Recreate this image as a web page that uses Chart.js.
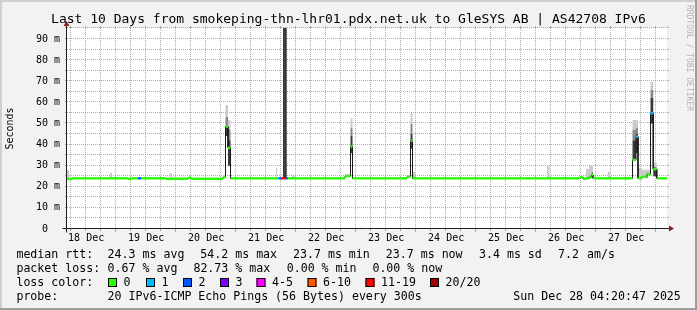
<!DOCTYPE html>
<html>
<head>
<meta charset="utf-8">
<script src="https://cdn.jsdelivr.net/npm/chart.js@4.4.0/dist/chart.umd.min.js"></script>
<style>
  html, body { margin: 0; padding: 0; background: #f2f2f2; }
  canvas { display: block; }
</style>
</head>
<body>
<canvas id="chart" width="697" height="310"></canvas>
<script>
const FONT = "'DejaVu Sans Mono', 'Liberation Mono', monospace";
const TITLE = 'Last 10 Days from smokeping-thn-lhr01.pdx.net.uk to GleSYS AB | AS42708 IPv6';

// --- DATA: hours since start of the 10 day window, value holds until next entry ---
const END_HOUR = 240;
const hours     = [0.0, 0.8, 2.0, 17.2, 18.0, 24.4, 25.6, 28.4, 29.6, 39.6, 41.2, 42.0, 48.4, 49.6, 62.4, 63.4, 64.4, 65.4,
                   83.6, 84.0, 84.8, 85.6, 86.4, 87.2, 87.9, 88.4, 90.0, 90.8, 111.2, 113.4, 114.2, 136.0, 137.4, 138.2, 139.2,
                   192.0, 193.0, 205.2, 206.4, 207.6, 208.8, 209.8, 210.4, 216.4, 217.2, 226.2, 227.6, 228.4, 230.0, 231.8,
                   232.2, 233.4, 234.5, 235.9];
const median    = [23.7, 23.7, 24.0, 24.0, 24.0, 23.7, 24.0, 24.0, 24.0, 23.7, 23.7, 23.8, 24.2, 23.8, 24.6, 48.5, 38.5, 24.0,
                   24.0, 24.0, 24.0, 24.0, 24.0, 24.0, 24.0, 24.0, 24.0, 24.0, 25.0, 39.0, 24.0, 24.8, 41.8, 24.0, 24.0,
                   24.0, 24.0, 24.5, 23.8, 24.0, 24.8, 25.6, 24.0, 24.0, 24.0, 32.7, 43.7, 24.0, 24.8, 25.2,
                   25.9, 54.8, 28.3, 24.0];
const loss      = [0, 0, 0, 0, 0, 0, 0, 2, 0, 0, 0, 0, 0, 0, 0, 0, 0, 0,
                   0, 1, 2, 15, 15, 2, 2, 0, 0, 0, 0, 0, 0, 0, 0, 0, 0,
                   0, 0, 0, 0, 0, 0, 0, 0, 0, 0, 0, 1, 0, 0, 0,
                   0, 1, 0, 0];
const smokeLo   = [23.7, 23.7, 24.0, 24.0, 24.0, 23.7, 24.0, 24.0, 24.0, 23.7, 23.7, 23.8, 24.2, 23.8, 24.6, 44.0, 30.0, 24.0,
                   24.0, 24.0, 24.0, 24.0, 24.0, 24.0, 24.0, 24.0, 24.0, 24.0, 25.0, 36.0, 24.0, 24.8, 38.0, 24.0, 24.0,
                   24.0, 24.0, 24.5, 23.8, 24.0, 24.0, 24.5, 24.0, 24.0, 24.0, 32.7, 36.0, 24.0, 24.8, 24.0,
                   25.9, 50.0, 25.0, 24.0];
const smokeDark = [23.7, 23.7, 24.0, 24.0, 24.0, 23.7, 24.0, 24.0, 24.0, 23.7, 23.7, 23.8, 24.2, 23.8, 24.6, 48.5, 42.0, 24.0,
                   24.0, 24.0, 24.0, 24.0, 120, 120, 24.0, 24.0, 24.0, 24.0, 25.0, 44.0, 24.0, 24.8, 45.0, 24.0, 24.0,
                   24.0, 24.0, 24.5, 23.8, 24.0, 24.8, 25.6, 24.0, 24.0, 24.0, 42.0, 45.0, 24.0, 24.8, 26.0,
                   25.9, 62.0, 28.3, 24.0];
const smokeMid  = [23.7, 23.7, 24.0, 24.0, 24.0, 23.7, 24.0, 24.0, 24.0, 23.7, 23.7, 23.8, 24.2, 23.8, 24.6, 53.0, 47.0, 24.0,
                   24.0, 24.0, 24.0, 24.0, 120, 120, 24.0, 24.0, 24.0, 24.0, 25.0, 48.0, 24.0, 24.8, 50.0, 24.0, 24.0,
                   24.0, 24.0, 24.5, 23.8, 24.0, 24.8, 27.0, 24.0, 24.0, 24.0, 47.0, 48.0, 24.0, 24.8, 27.0,
                   25.9, 66.0, 29.5, 24.0];
const smokeHi   = [28.0, 23.7, 24.0, 26.7, 24.0, 23.7, 24.0, 24.0, 24.0, 23.7, 26.5, 23.8, 24.2, 23.8, 25.5, 58.7, 51.6, 24.0,
                   29.0, 24.0, 24.0, 24.0, 120, 120, 24.0, 24.0, 25.6, 24.0, 26.0, 52.5, 24.0, 24.8, 55.0, 27.0, 24.0,
                   30.0, 24.0, 24.5, 23.8, 28.4, 30.0, 30.0, 24.0, 27.1, 24.0, 51.6, 51.6, 29.0, 28.0, 28.5,
                   28.0, 69.8, 31.4, 24.0];

const yTicks = [0, 10, 20, 30, 40, 50, 60, 70, 80, 90];
const dayLabels = ['18 Dec', '19 Dec', '20 Dec', '21 Dec', '22 Dec', '23 Dec', '24 Dec', '25 Dec', '26 Dec', '27 Dec'];
const labelDays = [18, 19, 20, 21, 22, 23, 24, 25, 26, 27];

const statsRtt  = ['24.3 ms avg', '54.2 ms max', '23.7 ms min', '23.7 ms now', '3.4 ms sd', '7.2', 'am/s'];
const statsLoss = ['0.67 % avg', '82.73 % max', '0.00 % min', '0.00 % now'];
const lossLabels = ['0', '1', '2', '3', '4-5', '6-10', '11-19', '20/20'];
const lossColors = ['#26ff00', '#00b8ff', '#0059ff', '#7e00ff', '#ff00ff', '#ff5500', '#ff0000', '#a10000'];
const probeText = '20 IPv6-ICMP Echo Pings (56 Bytes) every 300s';
const stampText = 'Sun Dec 28 04:20:47 2025';

// time helpers (window ends at the stamp above)
const endTime = Date.UTC(2025, 11, 28, 4, 20, 47);
const startTime = endTime - END_HOUR * 3600000;
const hourOf = (day, h) => (Date.UTC(2025, 11, day, h) - startTime) / 3600000;
const noonHours = labelDays.map(d => hourOf(d, 12));

function lossColor(n) {
    if (n <= 3) return lossColors[n];
    if (n <= 5) return lossColors[4];
    if (n <= 10) return lossColors[5];
    if (n <= 19) return lossColors[6];
    return lossColors[7];
}

function nextHour(i) {
    return i + 1 < hours.length ? hours[i + 1] : END_HOUR;
}

function stepPoints(values) {
    const pts = [];
    hours.forEach((h, i) => {
        pts.push({ x: h, y: values[i] }, { x: nextHour(i), y: values[i] });
    });
    return pts;
}

// horizontal pieces only, so the loss colour does not paint the vertical jumps
function medianPieces() {
    const pts = [];
    hours.forEach((h, i) => {
        pts.push({ x: h, y: median[i] }, { x: nextHour(i), y: median[i] }, { x: nextHour(i), y: null });
    });
    return pts;
}

function band(values, color) {
    return {
        data: stepPoints(values),
        borderColor: 'rgba(0,0,0,0)',
        borderWidth: 0,
        backgroundColor: color,
        fill: color ? '-1' : false,
        pointRadius: 0
    };
}

// --- PLUGINS ---
const backdrop = {
    id: 'backdrop',
    beforeDraw(chart) {
        const { ctx, chartArea: a, width, height } = chart;
        ctx.save();
        ctx.fillStyle = '#f2f2f2';
        ctx.fillRect(0, 0, width, height);
        ctx.fillStyle = '#cfcfcf';
        ctx.fillRect(0, 0, width, 2);
        ctx.fillRect(0, 0, 2, height);
        ctx.fillStyle = '#9e9e9e';
        ctx.fillRect(0, height - 2, width, 2);
        ctx.fillRect(width - 2, 0, 2, height);
        ctx.fillStyle = '#ffffff';
        ctx.fillRect(a.left, a.top, a.right - a.left, a.bottom - a.top);
        ctx.restore();
    }
};

const rrdGrid = {
    id: 'rrdGrid',
    beforeDatasetsDraw(chart) {
        const { ctx, chartArea: a, scales } = chart;
        const minor = 'rgba(143,143,143,0.75)';
        const major = 'rgba(222,79,79,0.6)';
        ctx.save();
        ctx.lineWidth = 1;
        const line = (x1, y1, x2, y2, color, dash) => {
            ctx.strokeStyle = color;
            ctx.setLineDash(dash);
            ctx.beginPath();
            ctx.moveTo(x1, y1);
            ctx.lineTo(x2, y2);
            ctx.stroke();
        };
        for (let v = 5; v < scales.y.max; v += 5) {
            const y = Math.round(scales.y.getPixelForValue(v)) - 0.5;
            const c = v % 10 === 0 ? major : minor;
            line(a.left - 2, y, a.left, y, c, []);
            line(a.right, y, a.right + 2, y, c, []);
            line(a.left, y, a.right, y, c, [1, 1]);
        }
        for (let day = 18; day <= 28; day++) {
            [0, 6, 12, 18].forEach(hh => {
                const t = hourOf(day, hh);
                if (t <= 0 || t >= END_HOUR) return;
                const x = Math.round(scales.x.getPixelForValue(t)) - 0.5;
                const c = hh === 0 ? major : minor;
                line(x, a.top - 2, x, a.top, c, []);
                line(x, a.bottom, x, a.bottom + (hh === 0 ? 3 : 2), c, []);
                line(x, a.top, x, a.bottom, c, [1, 1]);
            });
        }
        ctx.restore();
    }
};

const rrdAxes = {
    id: 'rrdAxes',
    afterDatasetsDraw(chart) {
        const { ctx, chartArea: a } = chart;
        const x0 = a.left - 0.5, y0 = a.bottom - 0.5;
        ctx.save();
        ctx.strokeStyle = '#1f1f1f';
        ctx.lineWidth = 1;
        ctx.beginPath();
        ctx.moveTo(x0 - 4, y0);
        ctx.lineTo(a.right + 4, y0);
        ctx.moveTo(x0, y0 + 4);
        ctx.lineTo(x0, a.top - 4);
        ctx.stroke();
        ctx.fillStyle = '#801f1f';
        ctx.beginPath();
        ctx.moveTo(a.right + 2, y0 - 3);
        ctx.lineTo(a.right + 2, y0 + 3);
        ctx.lineTo(a.right + 7, y0);
        ctx.closePath();
        ctx.fill();
        ctx.beginPath();
        ctx.moveTo(x0 - 3, a.top - 2);
        ctx.lineTo(x0 + 3, a.top - 2);
        ctx.lineTo(x0, a.top - 7);
        ctx.closePath();
        ctx.fill();
        ctx.restore();
    }
};

const rrdLegend = {
    id: 'rrdLegend',
    afterDraw(chart) {
        const { ctx } = chart;
        const rows = [254.5, 268.5, 282.5, 296.5];
        const rttX = [107.6, 200.3, 293, 385.8, 479, 558, 587];
        const lossX = [107.6, 193.4, 286.7, 372.4];
        const boxX = [108, 146, 183, 220, 256.5, 307.5, 365.5, 430];
        ctx.save();
        ctx.font = `11.6px ${FONT}`;
        ctx.fillStyle = '#000';
        ctx.textBaseline = 'middle';
        ctx.fillText('median rtt:', 16.4, rows[0]);
        statsRtt.forEach((s, i) => ctx.fillText(s, rttX[i], rows[0]));
        ctx.fillText('packet loss:', 16.4, rows[1]);
        statsLoss.forEach((s, i) => ctx.fillText(s, lossX[i], rows[1]));
        ctx.fillText('loss color:', 16.4, rows[2]);
        lossLabels.forEach((s, i) => {
            ctx.fillStyle = lossColors[i];
            ctx.fillRect(boxX[i], rows[2] - 4.5, 9, 9);
            ctx.strokeStyle = '#000';
            ctx.lineWidth = 1;
            ctx.strokeRect(boxX[i] + 0.5, rows[2] - 4, 8, 8);
            ctx.fillStyle = '#000';
            ctx.fillText(s, boxX[i] + 15.6, rows[2]);
        });
        ctx.fillText('probe:', 16.4, rows[3]);
        ctx.fillText(probeText, 107.6, rows[3]);
        ctx.fillText(stampText, 513.3, rows[3]);

        // rrdtool watermark on the right edge
        ctx.translate(689, 5);
        ctx.rotate(Math.PI / 2);
        ctx.font = `8px ${FONT}`;
        ctx.fillStyle = '#b4b4b4';
        ctx.textBaseline = 'middle';
        ctx.fillText('RRDTOOL / TOBI OETIKER', 0, 0);
        ctx.restore();
    }
};

// --- CHART ---
const ctx = document.getElementById('chart').getContext('2d');
new Chart(ctx, {
    type: 'line',
    data: {
        datasets: [
            {
                data: medianPieces(),
                borderColor: lossColors[0],
                borderWidth: 2.4,
                borderCapStyle: 'butt',
                pointRadius: 0,
                fill: false,
                spanGaps: false,
                segment: { borderColor: c => lossColor(loss[Math.floor(c.p0DataIndex / 3)]) }
            },
            {
                data: stepPoints(median),
                borderColor: '#1a1a1a',
                borderWidth: 1,
                pointRadius: 0,
                fill: false
            },
            band(smokeLo, null),
            band(smokeDark, '#3a3a3a'),
            band(smokeMid, '#8a8a8a'),
            band(smokeHi, '#cbcbcb')
        ]
    },
    options: {
        responsive: false,
        devicePixelRatio: 1,
        animation: false,
        events: [],
        layout: { padding: 0 },
        plugins: {
            legend: { display: false },
            tooltip: { enabled: false },
            title: {
                display: true,
                text: TITLE,
                color: '#000',
                font: { family: FONT, size: 13, weight: 'normal' },
                padding: { top: 12, bottom: 0.4 }
            }
        },
        scales: {
            x: {
                type: 'linear',
                min: 0,
                max: END_HOUR,
                grid: { display: false, drawTicks: false },
                border: { display: false },
                afterBuildTicks: s => { s.ticks = noonHours.map(v => ({ value: v })); },
                afterFit: s => { s.height = 81; },
                ticks: {
                    autoSkip: false,
                    maxRotation: 0,
                    padding: 3,
                    color: '#000',
                    font: { family: FONT, size: 10 },
                    callback: (v, i) => dayLabels[i]
                }
            },
            y: {
                min: 0,
                max: 95.2,
                grid: { display: false, drawTicks: false },
                border: { display: false },
                afterBuildTicks: s => { s.ticks = yTicks.map(v => ({ value: v })); },
                afterFit: s => { s.width = 67; },
                ticks: {
                    padding: 7,
                    color: '#000',
                    font: { family: FONT, size: 10 },
                    callback: v => (v === 0 ? '0  ' : v + ' m')
                },
                title: {
                    display: true,
                    text: 'Seconds',
                    color: '#000',
                    font: { family: FONT, size: 10 },
                    padding: { top: 4, bottom: 0 }
                }
            },
            y2: {
                position: 'right',
                grid: { display: false, drawTicks: false },
                border: { display: false },
                ticks: { display: false },
                afterFit: s => { s.width = 30; }
            }
        }
    },
    plugins: [backdrop, rrdGrid, rrdAxes, rrdLegend]
});
</script>
</body>
</html>
